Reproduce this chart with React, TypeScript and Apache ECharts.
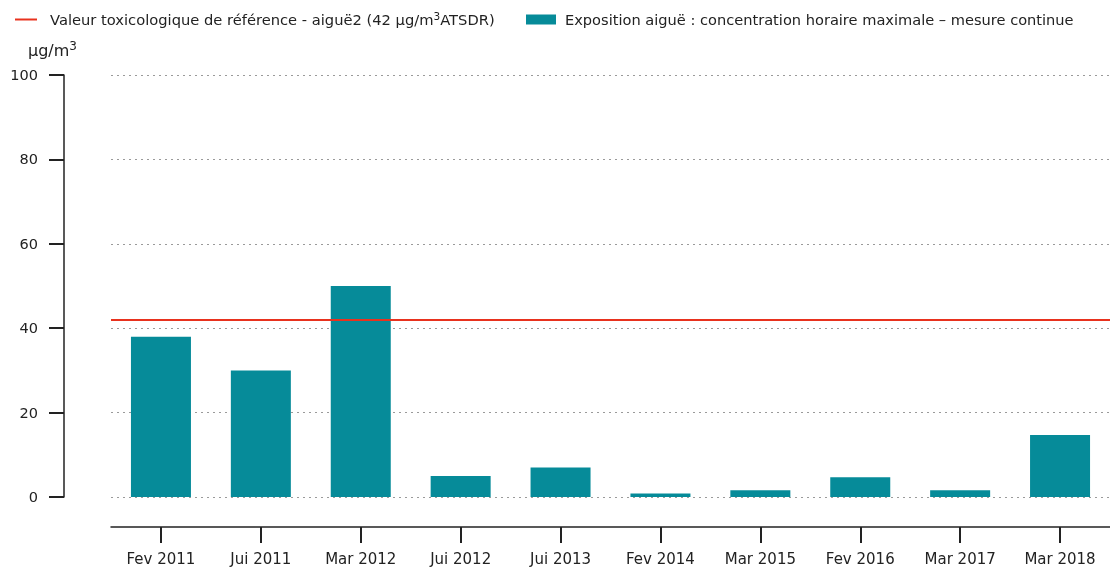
import React, { useEffect, useRef } from "react";
import * as echarts from "echarts";

const categories = ["Fev 2011", "Jui 2011", "Mar 2012", "Jui 2012", "Jui 2013", "Fev 2014", "Mar 2015", "Fev 2016", "Mar 2017", "Mar 2018"];
const concentrations = [38, 30, 50, 5, 7, 0.8, 1.6, 4.7, 1.6, 14.7];
const referenceValue = 42;
const yTicks = { min: 0, max: 100, interval: 20 };
const lineName = "Valeur toxicologique de référence - aiguë2 (42 µg/m³ATSDR)";
const barName = "Exposition aiguë : concentration horaire maximale – mesure continue";
const unitLabel = "µg/m";

const FONT = "DejaVu Sans";
const TEXT = "#222";

export default function App() {
  const ref = useRef<HTMLDivElement>(null);
  useEffect(() => {
    if (!ref.current) return;
    const chart = echarts.init(ref.current, undefined, { renderer: "svg" });
    chart.setOption({
      animation: false,
      textStyle: { fontFamily: FONT, color: TEXT },
      legend: [
        {
          data: [{ name: lineName, icon: "rect" }],
          left: 10,
          top: 5,
          itemWidth: 22,
          itemHeight: 2,
          formatter: () => "{g|}{t|Valeur toxicologique de référence - aiguë2 (42 µg/m}{s|3}{t|ATSDR)}",
          textStyle: {
            fontFamily: FONT,
            fontSize: 14.7,
            color: TEXT,
            rich: {
              g: { width: 8 },
              t: { fontFamily: FONT, fontSize: 14.7, color: TEXT },
              s: { fontFamily: FONT, fontSize: 10.5, color: TEXT, padding: [0, 0, 8, 0] },
            },
          },
        },
        {
          data: [{ name: barName, icon: "rect" }],
          left: 521,
          top: 7,
          itemWidth: 30,
          itemHeight: 10,
          formatter: (n: string) => "{g|}{t|" + n + "}",
          textStyle: {
            fontFamily: FONT,
            fontSize: 14.6,
            color: TEXT,
            rich: {
              g: { width: 4 },
              t: { fontFamily: FONT, fontSize: 14.6, color: TEXT },
            },
          },
        },
      ],
      grid: { left: 111, width: 1004, top: 75, bottom: 70, containLabel: false },
      xAxis: {
        type: "category",
        data: categories,
        offset: 30,
        axisLine: { show: true, onZero: false, lineStyle: { color: TEXT, width: 1.5 } },
        axisTick: { show: true, alignWithLabel: true, length: 16, lineStyle: { color: TEXT, width: 2 } },
        axisLabel: { fontFamily: FONT, fontSize: 15, color: TEXT, margin: 24 },
        splitLine: { show: false },
      },
      yAxis: {
        type: "value",
        min: yTicks.min,
        max: yTicks.max,
        interval: yTicks.interval,
        offset: 47,
        axisLine: { show: true, lineStyle: { color: TEXT, width: 1.5 } },
        axisTick: { show: true, length: 15, lineStyle: { color: TEXT, width: 2 } },
        axisLabel: { fontFamily: FONT, fontSize: 14.5, color: TEXT, margin: 26 },
        splitLine: { show: true, lineStyle: { color: "#9a9a9a", type: [2, 4], width: 1.2 } },
      },
      graphic: [
        {
          type: "text",
          left: 28,
          top: 40,
          style: {
            text: "{t|" + unitLabel + "}{s|3}",
            rich: {
              t: { fontFamily: FONT, fontSize: 16, fill: TEXT },
              s: { fontFamily: FONT, fontSize: 12, fill: TEXT, padding: [0, 0, 9, 0] },
            },
          },
        },
      ],
      series: [
        {
          name: barName,
          type: "bar",
          data: concentrations,
          barWidth: 60,
          itemStyle: { color: "#068b99" },
          z: 2,
        },
        {
          name: lineName,
          type: "line",
          data: [],
          symbol: "none",
          itemStyle: { color: "#e8321e" },
          lineStyle: { color: "#e8321e", width: 2 },
          markLine: {
            silent: true,
            symbol: "none",
            label: { show: false },
            lineStyle: { color: "#e8321e", width: 2, type: "solid" },
            data: [{ yAxis: referenceValue }],
          },
          z: 3,
        },
      ],
    });
    return () => chart.dispose();
  }, []);
  return <div ref={ref} style={{ position: "fixed", left: 0, top: 0, width: 1110, height: 567 }} />;
}
